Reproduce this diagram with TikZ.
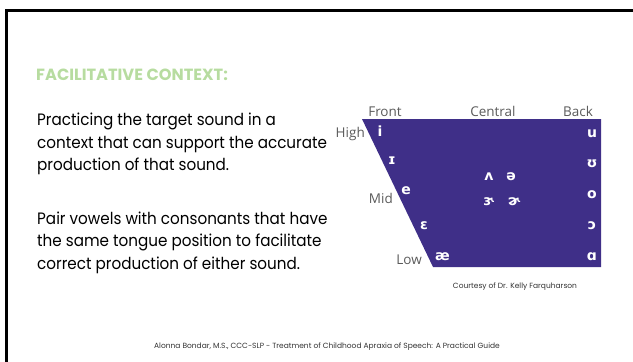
\documentclass[tikz,border=0pt]{standalone}
\usepackage{fontspec}
\setmainfont{Poppins}
\newfontfamily\bodyfont[FakeStretch=0.92]{Poppins}
\newfontfamily\notefont{Poppins}
\newfontfamily\chartfont{Open Sans}
\newfontfamily\ipafont{DejaVu Sans}
\definecolor{chartpurple}{HTML}{3F2F88}
\definecolor{titlegreen}{HTML}{B7DCA0}
\definecolor{axisgray}{HTML}{5A5A5A}
\begin{document}
\begin{tikzpicture}[x=1pt,y=-1pt,
    bodytext/.style={anchor=base west,font=\bodyfont\fontsize{16.5}{18}\selectfont,text=black,inner sep=0},
    axislabel/.style={font=\chartfont\fontsize{13.5}{15}\selectfont,text=axisgray,inner sep=0},
    vowel/.style={anchor=base,font=\ipafont\bfseries\fontsize{14}{16}\selectfont,text=white,inner sep=0},
    smallnote/.style={anchor=base,font=\notefont\fontsize{7.5}{8}\selectfont,text=black!80,inner sep=0}]
    \useasboundingbox (0,0) rectangle (633,362);

    % slide frame
    \draw[line width=3pt] (6,362) -- (6,10) -- (633,10);

    \node[anchor=base west,inner sep=0,text=titlegreen,font=\notefont\bfseries\fontsize{16.2}{18}\selectfont] (title) at (36,80) {FACILITATIVE CONTEXT:};

    \node[bodytext] (p1a) at (37,125.7) {Practicing the target sound in a};
    \node[bodytext] (p1b) at (37,148.3) {context that can support the accurate};
    \node[bodytext] (p1c) at (37,170.8) {production of that sound.};
    \node[bodytext] (p2a) at (37,224) {Pair vowels with consonants that have};
    \node[bodytext] (p2b) at (37,246.6) {the same tongue position to facilitate};
    \node[bodytext] (p2c) at (37,269.1) {correct production of either sound.};

    % vowel quadrilateral
    \fill[chartpurple] (362,119) -- (601,119) -- (601,267) -- (433,267) -- cycle;

    \node[axislabel,anchor=base] (front) at (385,116) {Front};
    \node[axislabel,anchor=base] (central) at (493,116) {Central};
    \node[axislabel,anchor=base] (back) at (578,116) {Back};
    \node[axislabel,anchor=base east] (high) at (365,137.7) {High};
    \node[axislabel,anchor=base east] (mid) at (393,203.3) {Mid};
    \node[axislabel,anchor=base east] (low) at (422,264) {Low};

    \node[vowel] (vi) at (380,136.7) {i};
    \node[vowel] (vI) at (392,164) {ɪ};
    \node[vowel] (ve) at (406,194) {e};
    \node[vowel] (veps) at (424,229) {ɛ};
    \node[vowel] (vae) at (442.5,260.7) {æ};
    \node[vowel] (vwedge) at (489,180) {ʌ};
    \node[vowel] (vschwa) at (511,180) {ə};
    \node[vowel] (vrev) at (489,205.7) {ɝ};
    \node[vowel] (vhook) at (514,205.7) {ɚ};
    \node[vowel] (vu) at (592,137) {u};
    \node[vowel] (vU) at (592,167) {ʊ};
    \node[vowel] (vo) at (592,198) {o};
    \node[vowel] (vopen) at (592,229) {ɔ};
    \node[vowel] (vA) at (592,260.7) {ɑ};

    \node[smallnote] (credit) at (515,288.5) {Courtesy of Dr. Kelly Farquharson};
    \node[smallnote] (footer) at (327,348) {Alonna Bondar, M.S., CCC-SLP - Treatment of Childhood Apraxia of Speech: A Practical Guide};
\end{tikzpicture}
\end{document}
